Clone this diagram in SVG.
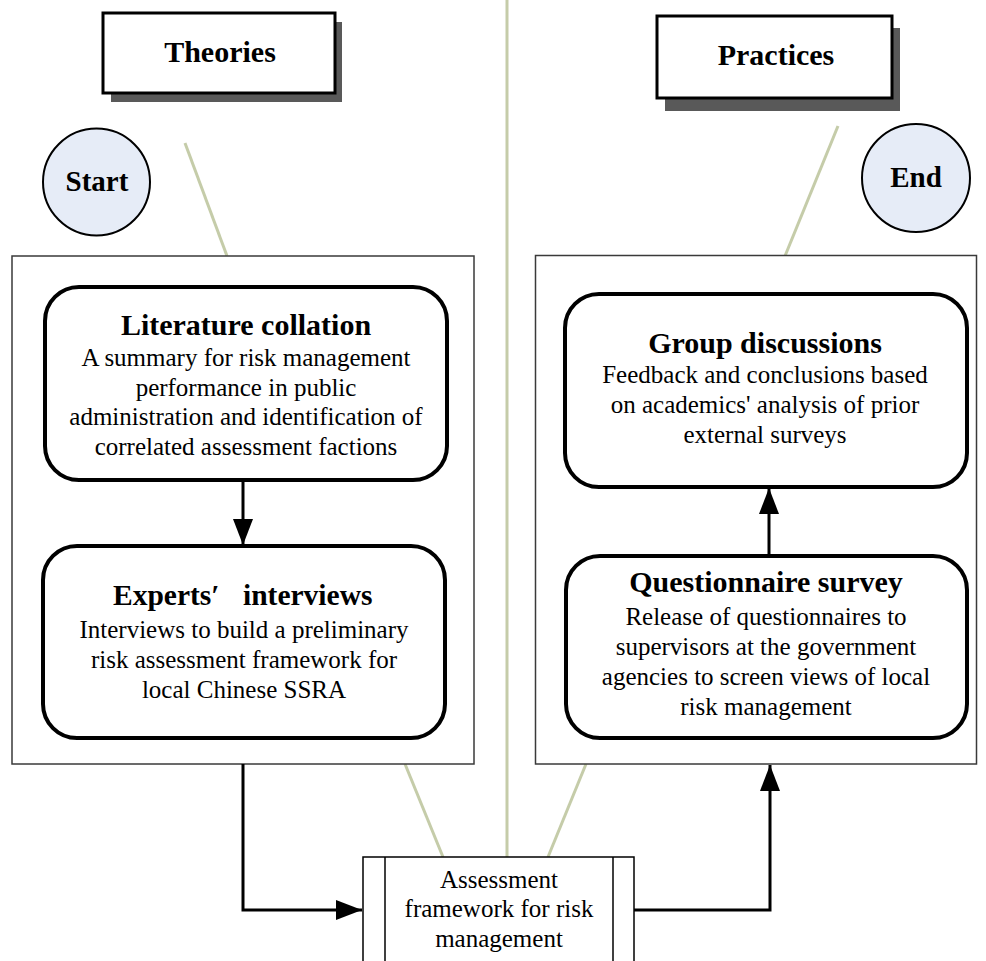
<svg xmlns="http://www.w3.org/2000/svg" width="986" height="961" viewBox="0 0 986 961">
<defs>
<style>
.t{font-family:"Liberation Serif","Times New Roman",serif;fill:#000}
.b{font-weight:bold}
.title{font-size:30px;font-weight:bold;text-anchor:middle}
.body{font-size:25px;text-anchor:middle}
.g{stroke:#c5cca9;stroke-width:3;fill:none}
.cont{fill:#fff;stroke:#3a3a3a;stroke-width:1.5}
.rr{fill:#fff;stroke:#000;stroke-width:4}
.hd{fill:#fff;stroke:#000;stroke-width:3}
.sh{fill:#595959}
.circ{fill:#e6ecf7;stroke:#000;stroke-width:2}
.c{stroke:#000;stroke-width:3;fill:none}
</style>
<marker id="ah" markerWidth="26" markerHeight="20" refX="26" refY="10" orient="auto" markerUnits="userSpaceOnUse">
<path d="M0,0 L26,10 L0,20 Z" fill="#000"/>
</marker>
</defs>
<rect width="986" height="961" fill="#fff"/>

<g id="guides">
<line class="g" x1="507" y1="0" x2="507" y2="857"/>
<line class="g" x1="185" y1="143" x2="227" y2="256"/>
<line class="g" x1="838" y1="126" x2="785" y2="256"/>
<line class="g" x1="405" y1="764" x2="443" y2="857"/>
<line class="g" x1="586" y1="764" x2="548" y2="857"/>
</g>

<g id="theories">
<rect class="sh" x="111" y="22" width="231" height="80"/>
<rect class="hd" x="103" y="13" width="232" height="80"/>
<text class="t title" x="220" y="62">Theories</text>
</g>

<g id="practices">
<rect class="sh" x="665" y="28" width="235" height="83"/>
<rect class="hd" x="657" y="16" width="235" height="82"/>
<text class="t title" x="776" y="65">Practices</text>
</g>

<g id="start">
<circle class="circ" cx="96.5" cy="182" r="53.5"/>
<text class="t title" x="97" y="191" style="font-size:29px">Start</text>
</g>

<g id="end">
<circle class="circ" cx="916" cy="178" r="54"/>
<text class="t title" x="916" y="187" style="font-size:29px">End</text>
</g>

<g id="theories-panel">
<rect class="cont" x="12" y="256" width="462" height="508"/>
</g>

<g id="practices-panel">
<rect class="cont" x="535.5" y="255.5" width="441" height="508.5"/>
</g>

<g id="literature">
<rect class="rr" x="45" y="287" width="402" height="193" rx="34"/>
<text class="t title" x="246" y="335">Literature collation</text>
<text class="t body" x="246" y="366">A summary for risk management</text>
<text class="t body" x="246" y="395.5">performance in public</text>
<text class="t body" x="246" y="425">administration and identification of</text>
<text class="t body" x="246" y="455">correlated assessment factions</text>
</g>

<g id="experts">
<rect class="rr" x="43" y="546" width="402" height="192" rx="34"/>
<text class="t b" style="font-size:29.5px" x="113" y="605">Experts′ <tspan x="243">interviews</tspan></text>
<text class="t body" x="244" y="638">Interviews to build a preliminary</text>
<text class="t body" x="244" y="668">risk assessment framework for</text>
<text class="t body" x="244" y="698">local Chinese SSRA</text>
</g>

<g id="group">
<rect class="rr" x="565" y="294" width="402" height="193" rx="34"/>
<text class="t title" x="765" y="353">Group discussions</text>
<text class="t body" x="765" y="383">Feedback and conclusions based</text>
<text class="t body" x="765" y="413">on academics' analysis of prior</text>
<text class="t body" x="765" y="443">external surveys</text>
</g>

<g id="questionnaire">
<rect class="rr" x="566" y="556" width="401" height="182" rx="34"/>
<text class="t title" x="766" y="592">Questionnaire survey</text>
<text class="t body" x="766" y="625">Release of questionnaires to</text>
<text class="t body" x="766" y="655">supervisors at the government</text>
<text class="t body" x="766" y="685">agencies to screen views of local</text>
<text class="t body" x="766" y="715">risk management</text>
</g>

<g id="assessment">
<rect x="363" y="857" width="271" height="120" fill="#fff" stroke="#000" stroke-width="1.5"/>
<line x1="385" y1="857" x2="385" y2="961" stroke="#000" stroke-width="1.5"/>
<line x1="613" y1="857" x2="613" y2="961" stroke="#000" stroke-width="1.5"/>
<text class="t body" x="499" y="888">Assessment</text>
<text class="t body" x="499" y="917">framework for risk</text>
<text class="t body" x="499" y="947">management</text>
</g>

<g id="connectors">
<line class="c" x1="243" y1="480" x2="243" y2="545" marker-end="url(#ah)"/>
<line class="c" x1="769" y1="556" x2="769" y2="488" marker-end="url(#ah)"/>
<polyline class="c" points="243,764 243,910 362,910" marker-end="url(#ah)"/>
<polyline class="c" points="634,910 770,910 770,765" marker-end="url(#ah)"/>
</g>
</svg>
